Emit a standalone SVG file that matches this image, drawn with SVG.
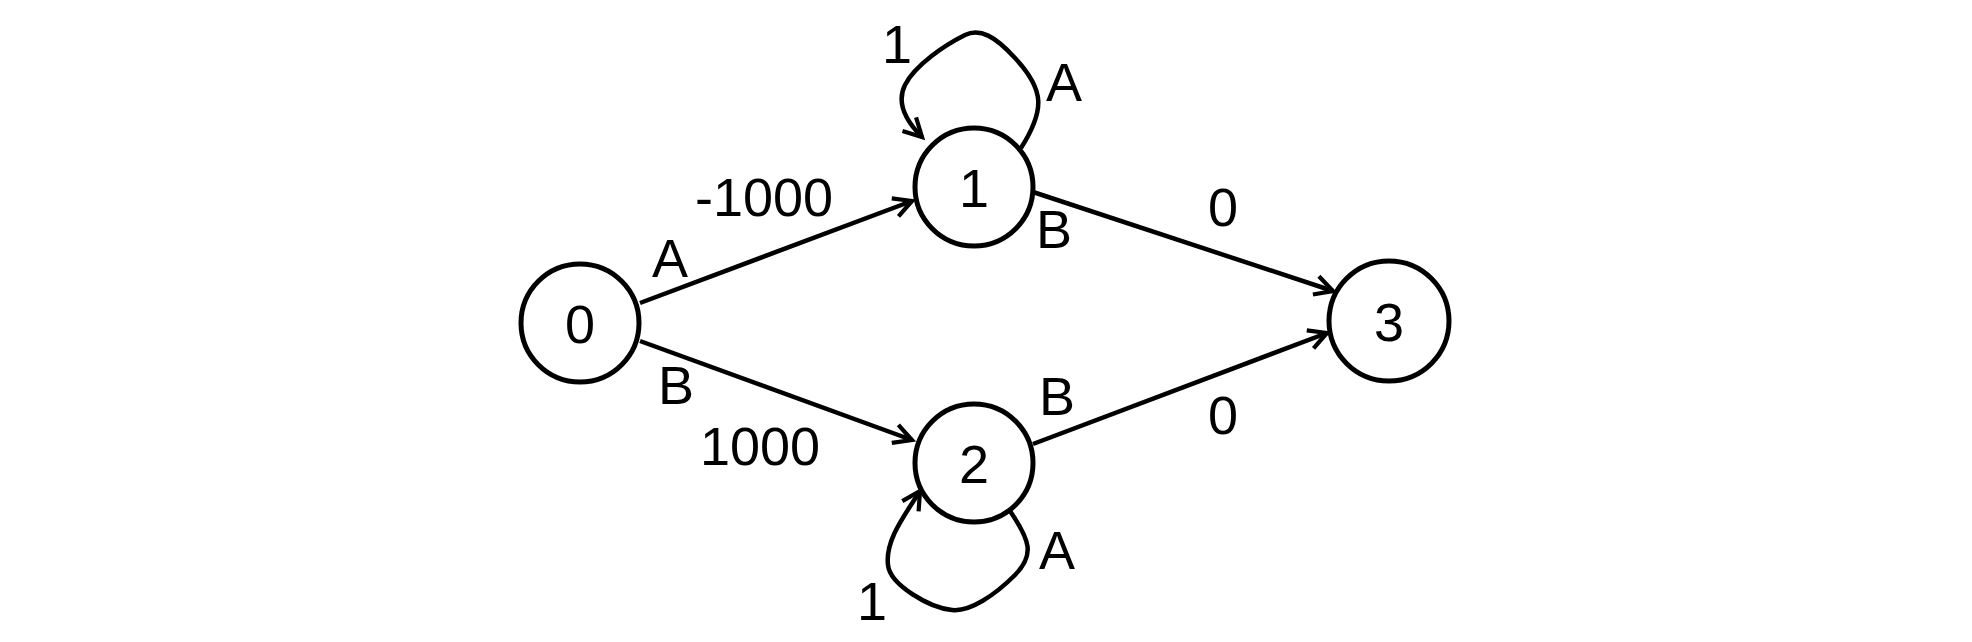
<svg xmlns="http://www.w3.org/2000/svg" width="1972" height="642" viewBox="0 0 1972 642">
<style>
.n{fill:#fff;stroke:#000;stroke-width:5}
.e{fill:none;stroke:#000;stroke-width:4.5}
text{font-family:"Liberation Sans",Arial,sans-serif;font-size:54px;fill:#000;text-anchor:middle}
</style>
<defs><marker id="a" viewBox="0 0 20 20" refX="18" refY="10" markerWidth="24" markerHeight="24" markerUnits="userSpaceOnUse" orient="auto" style="overflow:visible"><path d="M3,2 L18,10 L3,18" fill="none" stroke="#000" stroke-width="3.5"/></marker></defs>
<rect width="1972" height="642" fill="#fff"/>
<g id="edges">
<path class="e" d="M640,303 L912,201" marker-end="url(#a)"/>
<path class="e" d="M640,341 L912,440" marker-end="url(#a)"/>
<path class="e" d="M1033,192 L1333,291" marker-end="url(#a)"/>
<path class="e" d="M1033,444 L1327,333" marker-end="url(#a)"/>
<path class="e" d="M1021,148 C1045,110 1045,90 1015,58 C995,36 980,28 965,35 C945,45 915,65 905,85 C895,105 910,125 922,137" marker-end="url(#a)"/>
<path class="e" d="M1010,511 C1030,540 1035,555 1015,575 C995,595 970,612 952,610 C930,608 890,585 888,565 C885,540 905,515 920,491" marker-end="url(#a)"/>
</g>
<g id="node0"><circle class="n" cx="580" cy="323" r="59"/><text x="580" y="343">0</text></g>
<g id="node1"><circle class="n" cx="974" cy="187" r="59"/><text x="974" y="207">1</text></g>
<g id="node2"><circle class="n" cx="974" cy="463" r="59"/><text x="974" y="483">2</text></g>
<g id="node3"><circle class="n" cx="1389" cy="321" r="60"/><text x="1389" y="341">3</text></g>
<g id="labels">
<text x="764" y="216">-1000</text>
<text x="670" y="277">A</text>
<text x="676" y="404">B</text>
<text x="760" y="465">1000</text>
<text x="897" y="63">1</text>
<text x="1064" y="101">A</text>
<text x="1054" y="248">B</text>
<text x="1223" y="226">0</text>
<text x="1057" y="415">B</text>
<text x="1223" y="434">0</text>
<text x="1057" y="569">A</text>
<text x="872" y="620">1</text>
</g>
</svg>
